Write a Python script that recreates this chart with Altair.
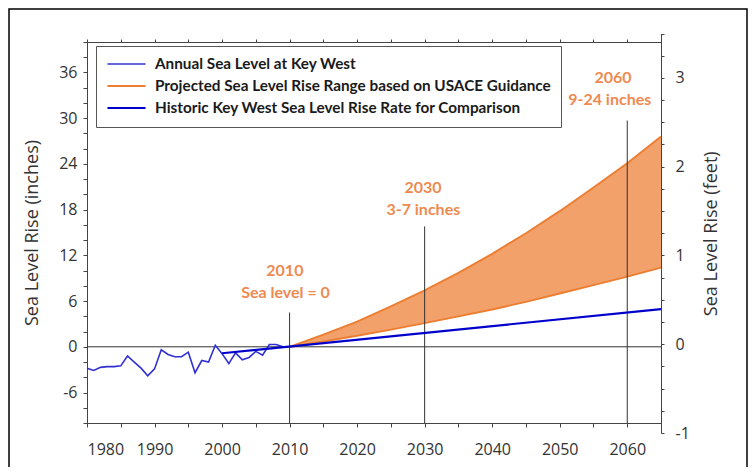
import altair as alt
import pandas as pd
import numpy as np

# ---------------- data ----------------
S_ANNUAL = "Annual Sea Level at Key West"
S_PROJ = "Projected Sea Level Rise Range based on USACE Guidance"
S_HIST = "Historic Key West Sea Level Rise Rate for Comparison"

annual_years = list(range(1980, 2010))
annual_values = [-2.8, -3.1, -2.7, -2.6, -2.6, -2.5, -1.2, -2.0, -2.8, -3.8,
                 -2.9, -0.4, -1.0, -1.3, -1.3, -0.7, -3.4, -1.8, -2.0, 0.2,
                 -0.9, -2.2, -0.8, -1.7, -1.4, -0.6, -1.1, 0.3, 0.3, 0.0]

proj_years = [2010, 2015, 2020, 2025, 2030, 2035, 2040, 2045, 2050, 2055, 2060, 2065]
proj_upper = [0, 1.6, 3.3, 5.3, 7.4, 9.7, 12.2, 14.9, 17.8, 20.9, 24.1, 27.6]
proj_lower = [0, 0.7, 1.45, 2.25, 3.1, 4.0, 4.9, 5.9, 7.0, 8.1, 9.2, 10.4]

hist_years = [2000, 2065]
hist_values = [-0.85, 4.95]

marker_years = [2010, 2030, 2060]
marker_tops = [4.5, 15.8, 29.7]
marker_bottom = -10

ann_x = [2009.3, 2009.4, 2029.75, 2029.8, 2057.9, 2057.4]
ann_y = [9.9, 7.05, 20.8, 18.0, 35.3, 32.4]
ann_text = ["2010", "Sea level = 0", "2030", "3-7 inches", "2060", "9-24 inches"]

x_ticks = list(range(1980, 2066, 5))
y_ticks = list(range(-10, 41, 2))
ft_ticks = [v / 4 for v in range(-4, 15)]

# ---------------- scales / axes ----------------
xs = alt.Scale(domain=[1980, 2065], nice=False, zero=False)
ys = alt.Scale(domain=[-10, 40], nice=False, zero=False)

xax = alt.Axis(values=x_ticks, title=None, tickSize=4, labelPadding=14,
               labelExpr="datum.value % 10 == 0 && datum.value <= 2060 ? '' + datum.value : ''")
yax = alt.Axis(values=y_ticks, title="Sea Level Rise (inches)", tickSize=4, labelPadding=6,
               titlePadding=17,
               labelExpr="datum.value % 6 == 0 ? '' + datum.value : ''")

def X(f="year"):
    return alt.X(f"{f}:Q", scale=xs, axis=xax)

def Y(f="inches"):
    return alt.Y(f"{f}:Q", scale=ys, axis=yax)

def legend():
    return alt.Legend(orient="none", legendX=9, legendY=4, title=None,
                      symbolType="stroke", symbolSize=1450, clipHeight=16,
                      labelFont="Lato", labelFontWeight="bold",
                      labelFontSize=15.3, labelColor="#1a1a1a",
                      labelLimit=700, labelOffset=8,
                      padding=10, rowPadding=5,
                      strokeColor="#555", fillColor="white")

series_domain = [S_ANNUAL, S_PROJ, S_HIST]
color = alt.Color("series:N",
                  scale=alt.Scale(domain=series_domain,
                                  range=["#3030d0", "#ED7D31", "#0000cc"]),
                  legend=legend())
swidth = alt.StrokeWidth("series:N",
                         scale=alt.Scale(domain=series_domain, range=[1.6, 2.2, 5.0]),
                         legend=legend())

# ---------------- frames ----------------
band_df = pd.DataFrame({"year": proj_years, "upper": proj_upper, "lower": proj_lower})
proj_df = pd.concat([
    pd.DataFrame({"year": proj_years, "inches": proj_upper, "bound": "upper", "series": S_PROJ}),
    pd.DataFrame({"year": proj_years, "inches": proj_lower, "bound": "lower", "series": S_PROJ}),
])
annual_df = pd.DataFrame({"year": annual_years, "inches": annual_values, "series": S_ANNUAL})
hist_df = pd.DataFrame({"year": hist_years, "inches": hist_values, "series": S_HIST})
marker_df = pd.DataFrame({"year": marker_years, "top": marker_tops, "bottom": marker_bottom})
ann_df = pd.DataFrame({"year": ann_x, "inches": ann_y, "text": ann_text})

area = alt.Chart(band_df).mark_area(color="#ED7D31", opacity=0.72).encode(
    x=X(), y=Y("upper"), y2=alt.Y2("lower:Q"))

proj = alt.Chart(proj_df).mark_line().encode(
    x=X(), y=Y(), color=color, strokeWidth=swidth, detail="bound:N")

zero = alt.Chart(pd.DataFrame({"inches": [0]})).mark_rule(color="#333", strokeWidth=1).encode(y=Y())

rules = alt.Chart(marker_df).mark_rule(color="#333", strokeWidth=1).encode(
    x=X(), y=Y("top"), y2=alt.Y2("bottom:Q"))

annual = alt.Chart(annual_df).mark_line().encode(
    x=X(), y=Y(), color=color, strokeWidth=swidth)

hist = alt.Chart(hist_df).mark_line().encode(
    x=X(), y=Y(), color=color, strokeWidth=swidth)

text = alt.Chart(ann_df).mark_text(font="Lato", fontWeight="bold", fontSize=16,
                                   color="#ee8a50", baseline="middle").encode(
    x=X(), y=Y(), text="text:N")

frame = alt.Chart(pd.DataFrame({"a": [0]})).mark_rect(
    filled=False, stroke="black", strokeWidth=1.5).encode(
    x=alt.value(-78), x2=alt.value(660), y=alt.value(-33), y2=alt.value(440))

inner = alt.layer(area, proj, zero, rules, annual, hist, text, frame)

rax = alt.Axis(orient="right", values=ft_ticks, title="Sea Level Rise (feet)",
               titleAngle=270, titleBaseline="top", titlePadding=13,
               tickSize=3, labelPadding=11,
               labelExpr="datum.value % 1 == 0 ? '' + datum.value : ''")
right = alt.Chart(pd.DataFrame({"ft": ft_ticks})).mark_point(opacity=0).encode(
    y=alt.Y("ft:Q", scale=alt.Scale(domain=[-1, 3.5], range=[391, -8.5], nice=False, zero=False),
            axis=rax))

topax = alt.Axis(orient="top", values=x_ticks, labels=False, title=None, tickSize=3)
top = alt.Chart(pd.DataFrame({"year": x_ticks})).mark_point(opacity=0).encode(
    x=alt.X("year:Q", scale=xs, axis=topax))

chart = alt.layer(inner, right, top).resolve_scale(y="independent").resolve_axis(
    x="independent", y="independent"
).properties(
    width=574, height=381,
    autosize=alt.AutoSizeParams(type="none"),
    padding={"left": 79, "top": 34, "right": 87, "bottom": 44},
    background="white",
).configure_axis(
    labelFont="Open Sans", labelFontSize=16, labelColor="#333",
    titleFont="Open Sans", titleFontSize=18, titleFontWeight="normal", titleColor="#333",
    domainColor="#444", tickColor="#444", grid=False,
).configure_view(stroke="#444", strokeWidth=1)

chart.save("out.html", embed_options={"renderer": "svg", "actions": False})
